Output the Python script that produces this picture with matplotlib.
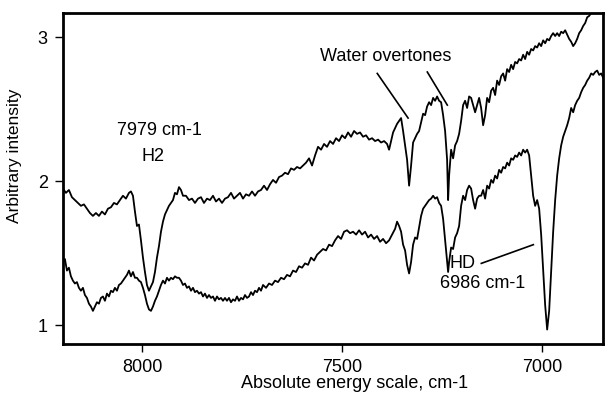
import matplotlib
matplotlib.use("Agg")
import matplotlib.pyplot as plt

plt.rcParams['font.family'] = ['Liberation Sans', 'DejaVu Sans']

# Upper spectrum (wavenumber, intensity)
upper_w = [8197.5, 8190, 8182.5, 8175, 8167.5, 8160, 8152.5, 8145, 8137.5, 8130, 8122.5, 8115, 8107.5, 8100, 8092.5, 8085,
           8077.5, 8070, 8062.5, 8055, 8047.5, 8040, 8032.5, 8027.5, 8022.5, 8017.5, 8012.5, 8007.5, 8002.5, 7997.5, 7992.5,
           7987.5, 7982.5, 7977.5, 7972.5, 7967.5, 7962.5, 7957.5, 7952.5, 7947.5, 7942.5, 7937.5, 7932.5, 7927.5, 7922.5,
           7917.5, 7912.5, 7907.5, 7902.5, 7897.5, 7890, 7882.5, 7875, 7867.5, 7860, 7852.5, 7845, 7837.5, 7830, 7822.5,
           7815, 7807.5, 7800, 7792.5, 7785, 7777.5, 7770, 7762.5, 7755, 7747.5, 7740, 7732.5, 7725, 7717.5, 7710, 7702.5,
           7695, 7687.5, 7680, 7672.5, 7665, 7657.5, 7650, 7642.5, 7635, 7627.5, 7620, 7612.5, 7605, 7597.5, 7590, 7582.5,
           7575, 7567.5, 7560, 7552.5, 7545, 7537.5, 7530, 7522.5, 7515, 7507.5, 7500, 7492.5, 7485, 7477.5, 7470, 7462.5,
           7455, 7447.5, 7440, 7432.5, 7425, 7417.5, 7410, 7402.5, 7395, 7387.5, 7382.5, 7377.5, 7372.5, 7367.5, 7362.5,
           7357.5, 7352.5, 7347.5, 7342.5, 7337.5, 7332.5, 7327.5, 7322.5, 7317.5, 7312.5, 7307.5, 7302.5, 7297.5, 7292.5,
           7287.5, 7282.5, 7277.5, 7272.5, 7267.5, 7262.5, 7257.5, 7252.5, 7247.5, 7242.5, 7237.5, 7235, 7232.5, 7227.5,
           7222.5, 7217.5, 7212.5, 7207.5, 7202.5, 7197.5, 7192.5, 7187.5, 7182.5, 7177.5, 7172.5, 7167.5, 7162.5, 7157.5,
           7152.5, 7147.5, 7142.5, 7137.5, 7132.5, 7127.5, 7122.5, 7117.5, 7112.5, 7107.5, 7102.5, 7097.5, 7092.5, 7087.5,
           7082.5, 7077.5, 7072.5, 7067.5, 7062.5, 7057.5, 7052.5, 7047.5, 7042.5, 7037.5, 7032.5, 7027.5, 7022.5, 7017.5,
           7012.5, 7007.5, 7002.5, 6997.5, 6992.5, 6987.5, 6982.5, 6977.5, 6972.5, 6967.5, 6962.5, 6957.5, 6952.5, 6947.5,
           6942.5, 6937.5, 6932.5, 6927.5, 6922.5, 6917.5, 6912.5, 6907.5, 6902.5, 6897.5, 6892.5, 6887.5, 6882.5, 6877.5,
           6870, 6862.5, 6855, 6847.5]
upper_i = [1.95, 1.92, 1.94, 1.89, 1.87, 1.85, 1.83, 1.84, 1.81, 1.78, 1.76, 1.78, 1.76, 1.79, 1.77, 1.81,
           1.82, 1.85, 1.84, 1.87, 1.90, 1.88, 1.92, 1.93, 1.90, 1.79, 1.69, 1.70, 1.59, 1.47, 1.37,
           1.28, 1.24, 1.27, 1.30, 1.37, 1.47, 1.55, 1.65, 1.72, 1.77, 1.80, 1.83, 1.85, 1.87,
           1.92, 1.91, 1.96, 1.94, 1.90, 1.90, 1.87, 1.88, 1.85, 1.88, 1.89, 1.85, 1.88, 1.87, 1.90,
           1.86, 1.88, 1.85, 1.88, 1.89, 1.92, 1.88, 1.90, 1.92, 1.88, 1.91, 1.90, 1.93, 1.90, 1.93, 1.94,
           1.97, 1.94, 1.98, 2.01, 1.99, 2.03, 2.04, 2.06, 2.05, 2.09, 2.08, 2.10, 2.09, 2.11, 2.13, 2.16,
           2.11, 2.18, 2.24, 2.22, 2.26, 2.24, 2.28, 2.26, 2.30, 2.28, 2.32, 2.30, 2.34, 2.31, 2.35, 2.33,
           2.34, 2.31, 2.32, 2.29, 2.30, 2.28, 2.29, 2.27, 2.28, 2.26, 2.22, 2.28, 2.34, 2.37, 2.40,
           2.42, 2.44, 2.35, 2.25, 2.15, 1.97, 2.11, 2.27, 2.30, 2.33, 2.35, 2.41, 2.47, 2.46,
           2.52, 2.55, 2.53, 2.58, 2.56, 2.59, 2.56, 2.55, 2.46, 2.35, 2.15, 1.87, 2.04, 2.22,
           2.16, 2.25, 2.28, 2.33, 2.42, 2.53, 2.56, 2.51, 2.59, 2.58, 2.53, 2.48, 2.53, 2.58,
           2.51, 2.39, 2.46, 2.58, 2.55, 2.63, 2.65, 2.60, 2.70, 2.67, 2.73, 2.75, 2.70, 2.78,
           2.76, 2.81, 2.78, 2.83, 2.82, 2.85, 2.84, 2.88, 2.85, 2.90, 2.88, 2.92, 2.91, 2.94,
           2.93, 2.96, 2.94, 2.98, 2.96, 2.99, 2.98, 3.01, 3.03, 3.01, 3.03, 3.01, 3.04, 3.03,
           3.05, 3.02, 2.99, 2.97, 2.94, 2.96, 2.99, 3.03, 3.05, 3.08, 3.10, 3.14, 3.15, 3.17,
           3.17, 3.17, 3.18, 3.18]

# Lower spectrum (wavenumber, intensity)
lower_w = [8197.5, 8192.5, 8187.5, 8182.5, 8177.5, 8172.5, 8167.5, 8162.5, 8157.5, 8152.5, 8147.5, 8142.5, 8137.5,
           8132.5, 8127.5, 8122.5, 8117.5, 8112.5, 8107.5, 8102.5, 8097.5, 8092.5, 8087.5, 8082.5, 8077.5, 8072.5,
           8067.5, 8062.5, 8057.5, 8052.5, 8047.5, 8042.5, 8037.5, 8032.5, 8027.5, 8022.5, 8017.5, 8012.5, 8007.5,
           8002.5, 7997.5, 7992.5, 7987.5, 7982.5, 7977.5, 7972.5, 7967.5, 7962.5, 7957.5, 7952.5, 7947.5, 7942.5,
           7937.5, 7932.5, 7927.5, 7922.5, 7917.5, 7912.5, 7907.5, 7902.5, 7897.5, 7892.5, 7887.5, 7882.5, 7877.5,
           7872.5, 7867.5, 7862.5, 7857.5, 7852.5, 7847.5, 7842.5, 7837.5, 7832.5, 7827.5, 7822.5, 7817.5, 7812.5,
           7807.5, 7802.5, 7797.5, 7792.5, 7787.5, 7782.5, 7777.5, 7772.5, 7767.5, 7762.5, 7757.5, 7752.5, 7747.5,
           7742.5, 7737.5, 7732.5, 7727.5, 7722.5, 7717.5, 7712.5, 7707.5, 7702.5, 7697.5, 7690, 7682.5, 7675,
           7667.5, 7660, 7652.5, 7645, 7637.5, 7630, 7622.5, 7615, 7607.5, 7600, 7592.5, 7585, 7577.5, 7570, 7562.5,
           7555, 7547.5, 7540, 7532.5, 7525, 7517.5, 7510, 7502.5, 7495, 7487.5, 7480, 7472.5, 7465, 7457.5, 7450,
           7442.5, 7435, 7427.5, 7420, 7412.5, 7405, 7397.5, 7390, 7382.5, 7375, 7367.5, 7362.5, 7357.5, 7352.5,
           7347.5, 7342.5, 7337.5, 7332.5, 7327.5, 7322.5, 7317.5, 7312.5, 7307.5, 7302.5, 7297.5, 7292.5, 7287.5,
           7282.5, 7277.5, 7272.5, 7267.5, 7262.5, 7257.5, 7252.5, 7247.5, 7242.5, 7237.5, 7235, 7232.5, 7227.5,
           7222.5, 7217.5, 7212.5, 7207.5, 7202.5, 7197.5, 7192.5, 7187.5, 7182.5, 7177.5, 7172.5, 7167.5, 7162.5,
           7157.5, 7152.5, 7147.5, 7142.5, 7137.5, 7132.5, 7127.5, 7122.5, 7117.5, 7112.5, 7107.5, 7102.5, 7097.5,
           7092.5, 7087.5, 7082.5, 7077.5, 7072.5, 7067.5, 7062.5, 7057.5, 7052.5, 7047.5, 7042.5, 7037.5, 7032.5,
           7027.5, 7022.5, 7017.5, 7012.5, 7007.5, 7002.5, 6997.5, 6992.5, 6987.5, 6982.5, 6977.5, 6972.5, 6967.5,
           6962.5, 6957.5, 6952.5, 6947.5, 6942.5, 6937.5, 6932.5, 6927.5, 6922.5, 6917.5, 6912.5, 6907.5, 6902.5,
           6897.5, 6892.5, 6887.5, 6882.5, 6877.5, 6872.5, 6867.5, 6862.5, 6857.5, 6852.5, 6847.5]
lower_i = [1.43, 1.46, 1.38, 1.40, 1.34, 1.31, 1.29, 1.30, 1.26, 1.24, 1.26, 1.21, 1.19,
           1.15, 1.13, 1.10, 1.13, 1.16, 1.15, 1.19, 1.20, 1.17, 1.22, 1.20, 1.24, 1.23,
           1.26, 1.24, 1.28, 1.29, 1.31, 1.33, 1.35, 1.38, 1.34, 1.37, 1.33, 1.33, 1.31,
           1.30, 1.26, 1.21, 1.15, 1.11, 1.10, 1.13, 1.17, 1.20, 1.24, 1.28, 1.31, 1.29,
           1.33, 1.31, 1.33, 1.32, 1.34, 1.33, 1.33, 1.31, 1.28, 1.29, 1.26, 1.27, 1.24,
           1.26, 1.23, 1.24, 1.22, 1.23, 1.20, 1.22, 1.19, 1.21, 1.19, 1.20, 1.17, 1.20,
           1.18, 1.19, 1.17, 1.19, 1.17, 1.19, 1.16, 1.18, 1.17, 1.20, 1.17, 1.19, 1.18,
           1.21, 1.19, 1.20, 1.23, 1.21, 1.24, 1.23, 1.26, 1.24, 1.28, 1.26, 1.29, 1.28,
           1.31, 1.30, 1.33, 1.32, 1.35, 1.34, 1.38, 1.37, 1.41, 1.40, 1.43, 1.42, 1.47, 1.45, 1.49,
           1.51, 1.53, 1.52, 1.56, 1.55, 1.59, 1.62, 1.60, 1.65, 1.66, 1.64, 1.65, 1.63, 1.66, 1.63,
           1.65, 1.61, 1.63, 1.60, 1.62, 1.58, 1.60, 1.57, 1.59, 1.63, 1.67, 1.72, 1.69, 1.65,
           1.56, 1.52, 1.42, 1.36, 1.44, 1.56, 1.61, 1.60, 1.68, 1.76, 1.81, 1.83, 1.85,
           1.87, 1.88, 1.90, 1.88, 1.89, 1.85, 1.83, 1.74, 1.59, 1.44, 1.37, 1.44, 1.54,
           1.53, 1.61, 1.64, 1.69, 1.83, 1.90, 1.87, 1.94, 1.97, 1.95, 1.87, 1.81, 1.88,
           1.90, 1.90, 1.94, 1.88, 1.97, 1.95, 2.01, 1.99, 2.04, 2.02, 2.08, 2.06, 2.10,
           2.09, 2.13, 2.11, 2.16, 2.15, 2.18, 2.17, 2.20, 2.18, 2.22, 2.20, 2.22, 2.18,
           2.04, 1.90, 1.83, 1.87, 1.81, 1.63, 1.38, 1.14, 0.97, 1.10, 1.38, 1.65, 1.87,
           2.04, 2.16, 2.25, 2.31, 2.35, 2.39, 2.44, 2.51, 2.48, 2.53, 2.56, 2.58, 2.62,
           2.65, 2.67, 2.70, 2.72, 2.75, 2.74, 2.76, 2.77, 2.74, 2.75, 2.72]

x_ticks = [8000, 7500, 7000]
y_ticks = [1, 2, 3]

# Annotation anchors (data coordinates)
water_text_pos = (7392, 2.87)
water_line1 = ([7412, 7335], [2.75, 2.44])
water_line2 = ([7287, 7237], [2.76, 2.53])
h2_text1_pos = (7957, 2.35)
h2_text2_pos = (7972, 2.17)
hd_text1_pos = (7232, 1.43)
hd_text2_pos = (7255, 1.29)
hd_line = ([7152, 7022], [1.43, 1.56])

fig = plt.figure(figsize=(6.05, 3.94), dpi=100)
ax = fig.add_axes([0.104, 0.127, 0.893, 0.840])

ax.plot(upper_w, upper_i, color='black', lw=1.3)
ax.plot(lower_w, lower_i, color='black', lw=1.3)

ax.set_xlim(8197.5, 6847.5)
ax.set_ylim(0.87, 3.17)
ax.set_xticks(x_ticks)
ax.set_yticks(y_ticks)
ax.tick_params(axis='both', direction='out', length=6, width=1, labelsize=13, pad=5, color='black')
for s in ax.spines.values():
    s.set_linewidth(2)

ax.set_xlabel('Absolute energy scale, cm-1', fontsize=13, labelpad=0)
ax.xaxis.set_label_coords(0.54, -0.093)
ax.set_ylabel('Arbitrary intensity', fontsize=12.5)
ax.yaxis.set_label_coords(-0.075, 0.57)

ax.text(*water_text_pos, 'Water overtones', fontsize=13, ha='center', va='center')
ax.plot(*water_line1, color='black', lw=1.2)
ax.plot(*water_line2, color='black', lw=1.2)
ax.text(*h2_text1_pos, '7979 cm-1', fontsize=13, ha='center', va='center')
ax.text(*h2_text2_pos, 'H2', fontsize=13, ha='center', va='center')
ax.text(*hd_text1_pos, 'HD', fontsize=13, ha='left', va='center')
ax.text(*hd_text2_pos, '6986 cm-1', fontsize=13, ha='left', va='center')
ax.plot(*hd_line, color='black', lw=1.2)

fig.savefig('out.png', dpi=100)
